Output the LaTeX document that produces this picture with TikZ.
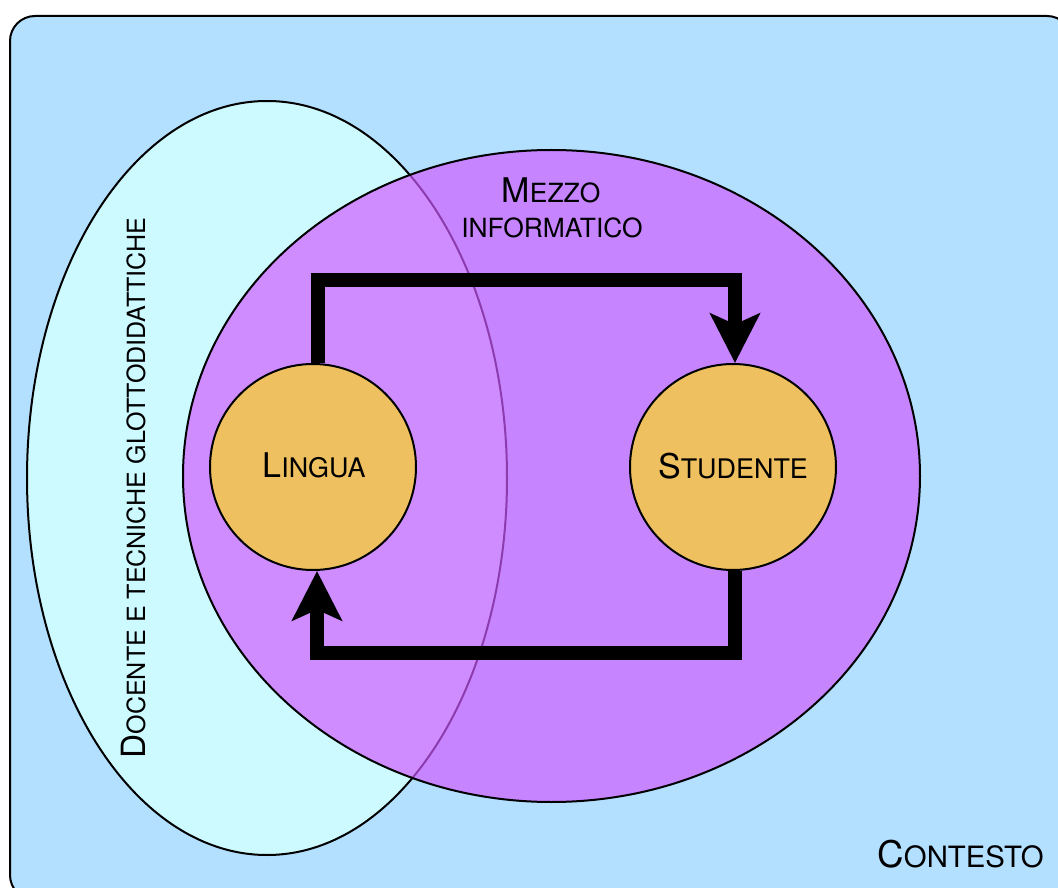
\documentclass[tikz,border=0pt]{standalone}
\usepackage{fontspec}
\setmainfont{TeX Gyre Heros}
\usetikzlibrary{arrows.meta,shapes.geometric}

% two-size small capitals: first letter large, rest smaller
\newcommand\scword[4]{{\fontsize{#1}{#1}\selectfont #3}{\fontsize{#2}{#2}\selectfont #4}}

\definecolor{ctxblue}{RGB}{180,224,255}
\definecolor{teachcyan}{RGB}{204,250,255}
\definecolor{mediapurple}{RGB}{208,89,255}
\definecolor{nodeorange}{RGB}{238,192,95}

\tikzset{
  region/.style={draw=black, line width=1.5pt},
  agent/.style={circle, draw=black, line width=1.5pt, fill=nodeorange,
    minimum size=154.5pt, inner sep=0pt},
  label/.style={inner sep=0pt, anchor=base, text=black},
  flow/.style={draw=black, line width=10pt,
    -{Stealth[length=37pt, width=37pt, inset=8pt]}},
}

\begin{document}
\begin{tikzpicture}[x=0.75pt, y=-0.75pt]
  \useasboundingbox (0,0) rectangle (1058,888);
  \clip (0,0) rectangle (1058,888);

  % context frame
  \draw[region, fill=ctxblue, rounded corners=18.75pt] (10,16) rectangle (1072,900);

  % teacher and techniques
  \node[region, ellipse, fill=teachcyan, inner sep=0pt,
    minimum width=360pt, minimum height=565.5pt] (teach) at (267,478) {};

  % computer medium
  \node[ellipse, draw=black, line width=1.5pt, fill=mediapurple, fill opacity=0.68,
    inner sep=0pt, minimum width=552.75pt, minimum height=489pt] (media) at (551.5,476) {};

  % language and student
  \node[agent] (lingua) at (313,467) {};
  \node[agent] (studente) at (733,467) {};

  \coordinate (topc) at (523,280);
  \coordinate (botc) at (523,653);

  \draw[flow] ([xshift=3.75pt]lingua.north) |- (topc) -| ([xshift=1.5pt]studente.north);
  \draw[flow] ([xshift=1.5pt]studente.south) |- (botc) -| ([xshift=3pt]lingua.south);

  % texts
  \node[label] (tlingua) at (314,477) {\scword{25.5pt}{20.2pt}{L}{INGUA}};
  \node[label] (tstudente) at (733,478) {\scword{25.5pt}{20.2pt}{S}{TUDENTE}};
  \node[label] (tmezzo1) at (551,203) {\scword{25.5pt}{19.8pt}{M}{EZZO}};
  \node[label] (tmezzo2) at (552,238) {\scword{19.8pt}{19.8pt}{}{INFORMATICO}};
  \node[label, anchor=base east] (tcontesto) at (1044,867) {\scword{27.5pt}{22pt}{C}{ONTESTO}};
  \node[label, rotate=90] (tdocente) at (145,488)
    {\scword{25pt}{18.8pt}{D}{OCENTE E TECNICHE GLOTTODIDATTICHE}};
\end{tikzpicture}
\end{document}
